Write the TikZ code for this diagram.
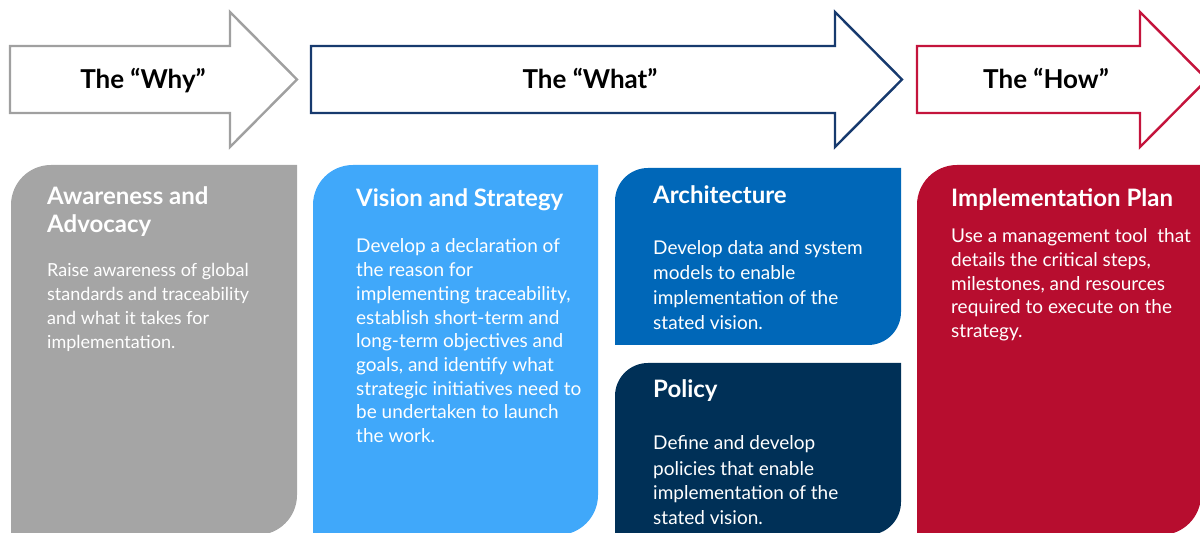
\documentclass[tikz,border=0pt]{standalone}
\usepackage{fontspec}
\setmainfont{Lato}
\definecolor{cgray}{RGB}{165,165,165}
\definecolor{cgrayline}{RGB}{160,160,160}
\definecolor{cnavyline}{RGB}{23,58,110}
\definecolor{credline}{RGB}{196,20,60}
\definecolor{clight}{RGB}{64,168,250}
\definecolor{carch}{RGB}{0,103,184}
\definecolor{cpol}{RGB}{0,48,87}
\definecolor{cimp}{RGB}{183,13,47}
\newcommand\cornerbox[6]{%
  \fill[#1] (#2,#3) -- (#2,#5-#6) arc[start angle=180,end angle=90,radius=#6] -- (#4,#5) -- (#4,#3+#6) arc[start angle=0,end angle=-90,radius=#6] -- cycle;}
\tikzset{
  bigarrow/.style={line width=2.4pt, fill=white, line join=miter},
  ttl/.style={anchor=base west, inner sep=0pt, text=white, align=left, font=\bfseries\fontsize{24}{28}\selectfont},
  bdy/.style={anchor=base west, inner sep=0pt, text=white, align=left, font=\fontsize{19}{24}\selectfont},
  arrlbl/.style={anchor=base, inner sep=0pt, font=\bfseries\fontsize{26}{30}\selectfont}
}
\begin{document}
\begin{tikzpicture}[x=1pt,y=1pt]
\useasboundingbox (0,0) rectangle (1200,533);
% arrows
\draw[bigarrow, draw=cgrayline] (10,420) -- (10,487) -- (230,487) -- (230,521) -- (297,453.5) -- (230,386) -- (230,420) -- cycle;
\draw[bigarrow, draw=cnavyline] (311,420) -- (311,487) -- (835,487) -- (835,521) -- (902,453.5) -- (835,386) -- (835,420) -- cycle;
\draw[bigarrow, draw=credline] (917,420) -- (917,487) -- (1140,487) -- (1140,521) -- (1207,453.5) -- (1140,386) -- (1140,420) -- cycle;
\node[arrlbl] (why) at (143,444) {The “Why”};
\node[arrlbl] (what) at (590,444) {The “What”};
\node[arrlbl] (how) at (1046,444) {The “How”};
% boxes
\cornerbox{cgray}{11}{-2}{297}{368}{40}
\cornerbox{clight}{313}{-2}{598}{368}{40}
\cornerbox{carch}{615}{188}{901}{365}{33}
\cornerbox{cpol}{615}{-2}{901}{170}{33}
\cornerbox{cimp}{917}{-2}{1201}{368}{40}
% texts (anchor = baseline of the last line)
\node[ttl] (t1) at (47,300) {Awareness and\\Advocacy};
\node[bdy, font=\fontsize{18}{24}\selectfont] (b1) at (47,184) {Raise awareness of global\\standards and traceability\\and what it takes for\\implementation.};
\node[ttl] (t2) at (356,326) {Vision and Strategy};
\node[bdy, font=\fontsize{19}{23.7}\selectfont] (b2) at (356,90.4) {Develop a declaration of\\the reason for\\implementing traceability,\\establish short-term and\\long-term objectives and\\goals, and identify what\\strategic initiatives need to\\be undertaken to launch\\the work.};
\node[ttl] (t3) at (653,329) {Architecture};
\node[bdy, font=\fontsize{19}{24.8}\selectfont] (b3) at (653,203.6) {Develop data and system\\models to enable\\implementation of the\\stated vision.};
\node[ttl] (t4) at (653,135) {Policy};
\node[bdy, font=\fontsize{19}{25}\selectfont] (b4) at (653,8) {Define and develop\\policies that enable\\implementation of the\\stated vision.};
\node[ttl] (t5) at (951,326) {Implementation Plan};
\node[bdy, font=\fontsize{19}{23.6}\selectfont] (b5) at (951,195.6) {Use a management tool\ \ that\\details the critical steps,\\milestones, and resources\\required to execute on the\\strategy.};
\end{tikzpicture}
\end{document}
